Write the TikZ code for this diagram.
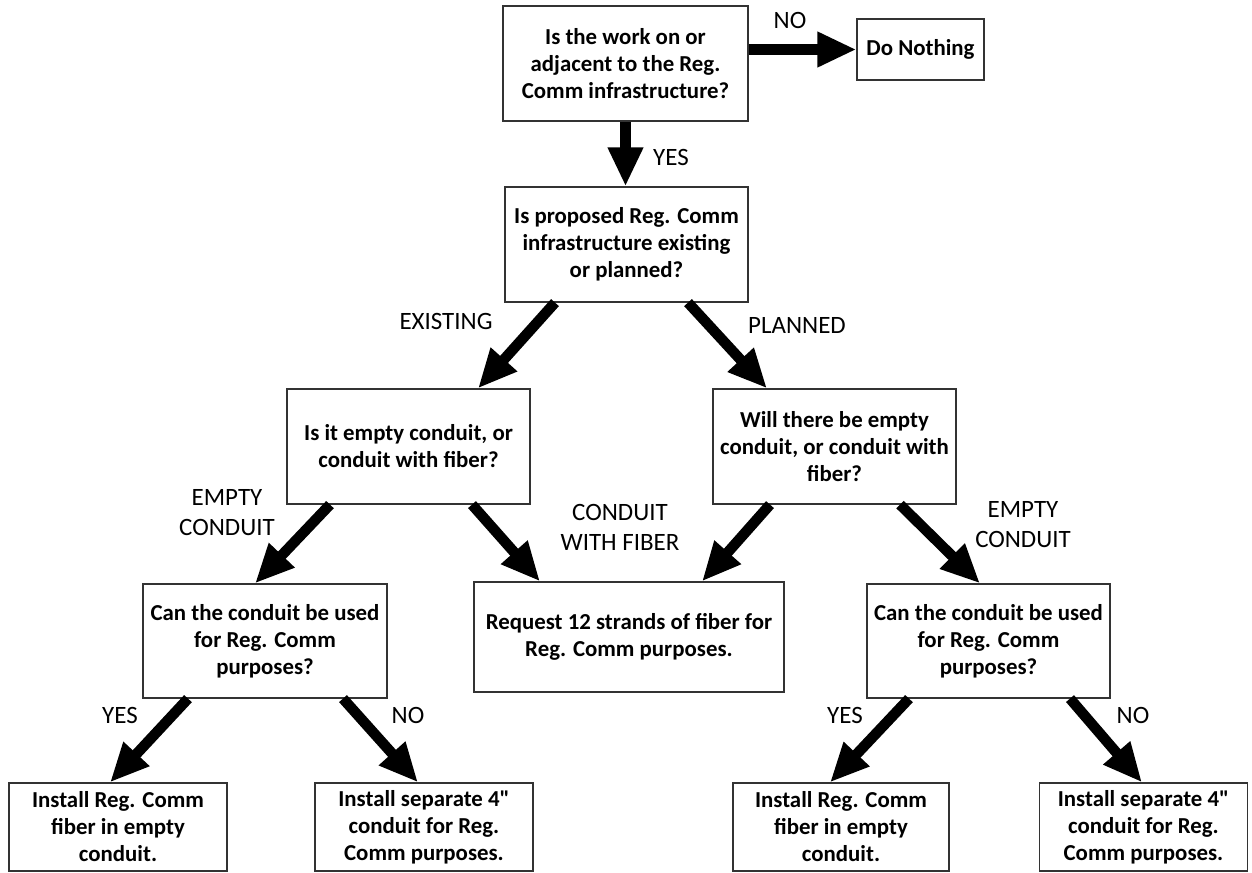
\documentclass[tikz,border=0pt]{standalone}
\usepackage{fontspec}
\setmainfont{Carlito}
\usetikzlibrary{arrows.meta,calc}
\begin{document}
\begin{tikzpicture}[x=0.02cm,y=-0.02cm,
  box/.style={draw=black!80,line width=0.7pt,align=center,inner sep=2pt,
    font=\bfseries\fontsize{13}{15.4}\selectfont},
  lbl/.style={align=center,inner sep=0pt,font=\fontsize{14.2}{17}\selectfont},
  arr/.style={line width=0.21cm,-{Triangle[length=0.78cm,width=0.66cm]}}]
\useasboundingbox (0,0) rectangle (1252,873);
\def\BW{4.86cm};\def\BH{2.3cm};
% decision boxes
\node[box,minimum width=4.9cm,minimum height=\BH] (work) at (625.5,63.5)
  {Is the work on or\\adjacent to the Reg.\\Comm infrastructure?};
\node[box,minimum width=2.54cm,minimum height=1.22cm] (nothing) at (920.5,49.5) {Do Nothing};
\node[box,minimum width=\BW,minimum height=\BH] (status) at (626.5,244.5)
  {Is proposed Reg. Comm\\infrastructure existing\\or planned?};
\node[box,minimum width=\BW,minimum height=\BH] (existq) at (408.5,446.5)
  {Is it empty conduit, or\\conduit with fiber?};
\node[box,minimum width=\BW,minimum height=\BH] (planq) at (834.5,446.5)
  {Will there be empty\\conduit, or conduit with\\fiber?};
\node[box,minimum width=4.88cm,minimum height=2.28cm] (useL) at (265,641)
  {Can the conduit be used\\for Reg. Comm\\purposes?};
\node[box,minimum width=6.2cm,minimum height=2.2cm] (request) at (629,637)
  {Request 12 strands of fiber for\\Reg. Comm purposes.};
\node[box,minimum width=\BW,minimum height=2.28cm] (useR) at (988.5,641)
  {Can the conduit be used\\for Reg. Comm\\purposes?};
% end boxes
\node[box,minimum width=4.36cm,minimum height=1.76cm] (fiberL) at (118,827)
  {Install Reg. Comm\\fiber in empty\\conduit.};
\node[box,minimum width=4.36cm,minimum height=1.76cm] (sepL) at (424,827)
  {Install separate 4\textquotedbl\\conduit for Reg.\\Comm purposes.};
\node[box,minimum width=4.32cm,minimum height=1.76cm] (fiberR) at (841,827)
  {Install Reg. Comm\\fiber in empty\\conduit.};
\node[box,minimum width=4.16cm,minimum height=1.76cm] (sepR) at (1143.5,827)
  {Install separate 4\textquotedbl\\conduit for Reg.\\Comm purposes.};
% arrows
\draw[arr] (work.east |- nothing.west) -- (nothing.west);
\draw[arr] (work.south) -- (work.south |- status.north);
\foreach \a/\da/\b/\db in {status/-71.5/existq/69.5, status/61.5/planq/-67.5,
    existq/-78.5/useL/-10, existq/63.5/request/-89, planq/-64.5/request/73,
    planq/65.5/useR/-8.5, useL/-77/fiberL/-8, useL/78/sepL/-6,
    useR/-79.5/fiberR/-11, useR/81.5/sepR/-1.5}
  \draw[arr] ($(\a.south)+(\da,0)$) -- ($(\b.north)+(\db,0)$);
% labels
\node[lbl] (no1) at (790,20) {NO};
\node[lbl] (yes1) at (671,157) {YES};
\node[lbl] (existing) at (446,321) {EXISTING};
\node[lbl] (planned) at (797,325) {PLANNED};
\node[lbl] (emptyL) at (227,513) {EMPTY\\CONDUIT};
\node[lbl] (withfiber) at (620,527) {CONDUIT\\WITH FIBER};
\node[lbl] (emptyR) at (1023,525) {EMPTY\\CONDUIT};
\node[lbl] (yesL) at (120,715) {YES};
\node[lbl] (noL) at (408,715) {NO};
\node[lbl] (yesR) at (845,715) {YES};
\node[lbl] (noR) at (1133,715) {NO};
\end{tikzpicture}
\end{document}
